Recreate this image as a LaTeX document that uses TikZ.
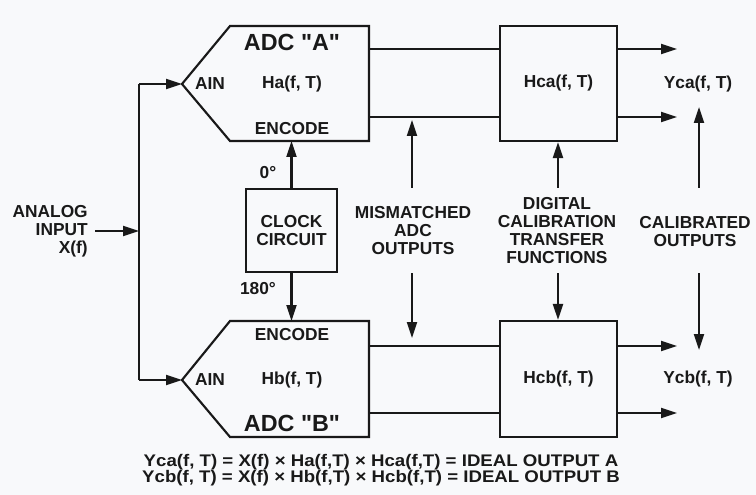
\documentclass[tikz,border=0pt]{standalone}
\usepackage{fontspec}
\setmainfont{Liberation Sans}
\newfontfamily\plainsans{Liberation Sans}[Ligatures=TeXOff]
\usetikzlibrary{arrows.meta,calc}
\definecolor{bgc}{RGB}{248,249,251}
\definecolor{ink}{RGB}{25,25,25}
\newcommand{\eqfont}{\bfseries\fontsize{12.6}{12}\selectfont\setlength{\lineskiplimit}{-20pt}\relax}
\tikzset{
  lbl/.style={font=\bfseries\fontsize{13}{13.5}\selectfont, text=ink, inner sep=0pt, align=center},
  big/.style={font=\plainsans\bfseries\fontsize{17.5}{18}\selectfont, text=ink, inner sep=0pt},
  eqn/.style={font=\eqfont, text=ink, inner sep=0pt, align=center, xscale=1.11, transform shape},
  blk/.style={draw=ink, line width=1.6pt, inner sep=0pt},
  wire/.style={draw=ink, line width=1.6pt},
  arr/.style={wire, -{Triangle[length=12pt,width=7.5pt]}},
}
\begin{document}
\begin{tikzpicture}[x=0.75pt,y=-0.75pt]
\fill[bgc] (0,0) rectangle (756,495);
\useasboundingbox (0,0) rectangle (756,495);

% ADC A shape
\coordinate (aTL) at (230,26);
\coordinate (aTR) at (369,26);
\coordinate (aBR) at (369,141);
\coordinate (aBL) at (230,141);
\coordinate (aIn) at (182,84);
\draw[wire, line join=miter] (aTL) -- (aTR) -- (aBR) -- (aBL) -- (aIn) -- cycle;
\node[big] (adcA) at (292,42) {ADC "A"};
\node[lbl] (ainA) at (210,84) {AIN};
\node[lbl] (ha) at (292,84) {Ha(f, T)};
\node[lbl] (encA) at (292,129) {ENCODE};
\coordinate (encAin) at (291.5,141);

% ADC B shape
\coordinate (bTL) at (230,321);
\coordinate (bTR) at (369,321);
\coordinate (bBR) at (369,437);
\coordinate (bBL) at (230,437);
\coordinate (bIn) at (182,380);
\draw[wire, line join=miter] (bTL) -- (bTR) -- (bBR) -- (bBL) -- (bIn) -- cycle;
\node[big] (adcB) at (292,423) {ADC "B"};
\node[lbl] (ainB) at (210,380) {AIN};
\node[lbl] (hb) at (292,380) {Hb(f, T)};
\node[lbl] (encB) at (292,335) {ENCODE};
\coordinate (encBin) at (291.5,321);

% clock
\node[blk, lbl, minimum width=68.25pt, minimum height=62.25pt] (clk) at (291.5,230.5) {CLOCK\\CIRCUIT};
\draw[arr] (clk.north) -- (encAin);
\draw[arr] (clk.south) -- (encBin);
\node[lbl] (p0) at (268,173) {0°};
\node[lbl] (p180) at (258,289) {180°};

% analog input
\node[lbl, align=right, anchor=east] (ain) at (88,231) {ANALOG\\INPUT\\X(f)};
\coordinate (split) at (139,231);
\coordinate (splitA) at (139,84);
\coordinate (splitB) at (139,380);
\draw[arr] (95,231) -- (split);
\draw[wire] (splitA) -- (splitB);
\draw[arr] (splitA) -- (aIn);
\draw[arr] (splitB) -- (bIn);

% calibration blocks
\node[blk, lbl, minimum width=87.75pt, minimum height=86.25pt] (hca) at (558.5,83.5) {Hca(f, T)};
\node[blk, lbl, minimum width=87.75pt, minimum height=87pt] (hcb) at (558.5,379) {Hcb(f, T)};

% mismatched lines
\coordinate (a1) at (369,49);
\coordinate (a2) at (369,117);
\coordinate (b1) at (369,346);
\coordinate (b2) at (369,413);
\draw[wire] (a1) -- (a1 -| hca.west);
\draw[wire] (a2) -- (a2 -| hca.west);
\draw[wire] (b1) -- (b1 -| hcb.west);
\draw[wire] (b2) -- (b2 -| hcb.west);

% outputs
\coordinate (oa1) at (677,49);
\coordinate (oa2) at (677,117);
\coordinate (ob1) at (677,346);
\coordinate (ob2) at (677,413);
\draw[arr] (oa1 -| hca.east) -- (oa1);
\draw[arr] (oa2 -| hca.east) -- (oa2);
\draw[arr] (ob1 -| hcb.east) -- (ob1);
\draw[arr] (ob2 -| hcb.east) -- (ob2);
\node[lbl] (yca) at (698,84) {Yca(f, T)};
\node[lbl] (ycb) at (698,379) {Ycb(f, T)};

% labels with arrows
\node[lbl] (mis) at (413,231) {MISMATCHED\\ADC\\OUTPUTS};
\node[lbl] (dig) at (557,231) {DIGITAL\\CALIBRATION\\TRANSFER\\FUNCTIONS};
\node[lbl] (cal) at (695,232) {CALIBRATED\\OUTPUTS};

\coordinate (m1s) at (412,188);
\coordinate (m1e) at (412,120);
\coordinate (m2s) at (412,273);
\coordinate (m2e) at (412,338);
\draw[arr] (m1s) -- (m1e);
\draw[arr] (m2s) -- (m2e);

\coordinate (d1s) at (558,188);
\coordinate (d2s) at (558,273);
\draw[arr] (d1s) -- (d1s |- hca.south);
\draw[arr] (d2s) -- (d2s |- hcb.north);

\coordinate (c1s) at (699,188);
\coordinate (c1e) at (699,107);
\coordinate (c2s) at (699,273);
\coordinate (c2e) at (699,350);
\draw[arr] (c1s) -- (c1e);
\draw[arr] (c2s) -- (c2e);

% equations
\node[eqn] (eq) at (381,470) {Yca(f, T) = X(f) × Ha(f,T) × Hca(f,T) = IDEAL OUTPUT A\\
Ycb(f, T) = X(f) × Hb(f,T) × Hcb(f,T) = IDEAL OUTPUT B};
\end{tikzpicture}
\end{document}
